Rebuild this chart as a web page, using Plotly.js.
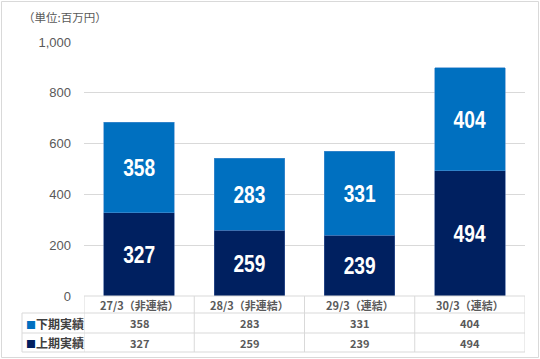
<!DOCTYPE html>
<html><head><meta charset="utf-8">
<script src="https://cdn.plot.ly/plotly-3.0.1.min.js"></script>
<style>html,body{margin:0;padding:0;background:#fff}#c{width:540px;height:359px}</style>
</head><body><div id="c"></div>
<script>
const categories = ["27/3（非連結）", "28/3（非連結）", "29/3（連結）", "30/3（連結）"];
const seriesNames = ["上期実績", "下期実績"];
const firstHalf = [327, 259, 239, 494];
const secondHalf = [358, 283, 331, 404];
const yTicks = [0, 200, 400, 600, 800, 1000];
const yTickText = ["0", "200", "400", "600", "800", "1,000"];

const C1 = "#002060", C2 = "#0070C0";
const W = 540, H = 359, L = 84, R = 15, T = 42, B = 63;
const pw = W - L - R, ph = H - T - B;
const py = p => (H - B - p) / ph;      // pixel y -> paper
const px = p => (p - L) / pw;          // pixel x -> paper
const idx = categories.map((_, i) => i);

const lblFont = {family: "Liberation Sans, Arial, sans-serif", size: 24, color: "#ffffff", weight: "bold"};
const traces = [
  {type: "bar", x: idx, y: firstHalf, name: seriesNames[0], marker: {color: C1, line: {color: "#3a5a9a", width: 0.6}},
   text: firstHalf.map(String), textposition: "inside", insidetextanchor: "middle", textangle: 0, textfont: lblFont, hoverinfo: "none"},
  {type: "bar", x: idx, y: secondHalf, name: seriesNames[1], marker: {color: C2, line: {color: "#4f8fd0", width: 0.6}},
   text: secondHalf.map(String), textposition: "inside", insidetextanchor: "middle", textangle: 0, textfont: lblFont, hoverinfo: "none"}
];

const grid = "#d9d9d9";
const tf = "Noto Sans CJK JP, sans-serif";
const shapes = [];
const yHead = 296, yR1 = 313, yR2 = 333, yR3 = 352;
shapes.push({type: "line", xref: "paper", yref: "paper", x0: 0, x1: 1, y0: py(yHead), y1: py(yHead), line: {color: grid, width: 1}});
[yR1, yR2, yR3].forEach(y => shapes.push({type: "line", xref: "paper", yref: "paper", x0: px(22), x1: 1, y0: py(y), y1: py(y), line: {color: grid, width: 1}}));
[-0.5, 0.5, 1.5, 2.5, 3.5].forEach(x => shapes.push({type: "line", xref: "x", yref: "paper", x0: x, x1: x, y0: py(yHead), y1: py(yR3), line: {color: grid, width: 1}}));
shapes.push({type: "line", xref: "paper", yref: "paper", x0: px(22), x1: px(22), y0: py(yR1), y1: py(yR3), line: {color: grid, width: 1}});
shapes.push({type: "rect", xref: "paper", yref: "paper", x0: px(1.5), x1: px(W - 1.5), y0: py(H - 1.5), y1: py(1.5), line: {color: "#d9d9d9", width: 1}});

const ann = [];
ann.push({xref: "paper", yref: "paper", x: px(21), y: py(17), xanchor: "left", yanchor: "middle", showarrow: false,
  text: "（単位:百万円）", font: {family: tf, size: 11.5, color: "#595959"}});
categories.forEach((c, i) => {
  ann.push({xref: "x", yref: "paper", x: i, y: py((yHead + yR1) / 2), xanchor: "center", yanchor: "middle", showarrow: false,
    text: c, font: {family: tf, size: 11, color: "#595959", weight: "bold"}});
  ann.push({xref: "x", yref: "paper", x: i, y: py((yR1 + yR2) / 2), xanchor: "center", yanchor: "middle", showarrow: false,
    text: String(secondHalf[i]), font: {family: tf, size: 11, color: "#595959", weight: "bold"}});
  ann.push({xref: "x", yref: "paper", x: i, y: py((yR2 + yR3) / 2), xanchor: "center", yanchor: "middle", showarrow: false,
    text: String(firstHalf[i]), font: {family: tf, size: 11, color: "#595959", weight: "bold"}});
});
ann.push({xref: "paper", yref: "paper", x: px(24), y: py((yR1 + yR2) / 2), xanchor: "left", yanchor: "middle", showarrow: false,
  text: '<span style="color:' + C2 + ';font-size:10px">■</span>' + seriesNames[1], font: {family: tf, size: 12, color: "#404040", weight: "bold"}});
ann.push({xref: "paper", yref: "paper", x: px(24), y: py((yR2 + yR3) / 2), xanchor: "left", yanchor: "middle", showarrow: false,
  text: '<span style="color:' + C1 + ';font-size:10px">■</span>' + seriesNames[0], font: {family: tf, size: 12, color: "#404040", weight: "bold"}});

const layout = {
  width: W, height: H, margin: {l: L, r: R, t: T, b: B, pad: 0},
  paper_bgcolor: "#fff", plot_bgcolor: "#fff",
  barmode: "stack", bargap: 0.36, showlegend: false,
  xaxis: {range: [-0.5, 3.5], showticklabels: false, showgrid: false, zeroline: false, ticks: "", fixedrange: true},
  yaxis: {range: [0, 1000], tickvals: yTicks, ticktext: yTickText, showgrid: true, gridcolor: grid, gridwidth: 1,
    zeroline: false, ticks: "", ticklabelstandoff: 12, tickfont: {family: "Liberation Sans, Arial, sans-serif", size: 13, color: "#595959"}},
  shapes: shapes, annotations: ann
};
Plotly.newPlot("c", traces, layout, {staticPlot: true, displayModeBar: false}).then(() => {
  // narrow the data labels like the condensed face of the original
  document.querySelectorAll("#c .bartext").forEach(t => {
    t.setAttribute("textLength", "32");
    t.setAttribute("lengthAdjust", "spacingAndGlyphs");
  });
});
</script></body></html>
